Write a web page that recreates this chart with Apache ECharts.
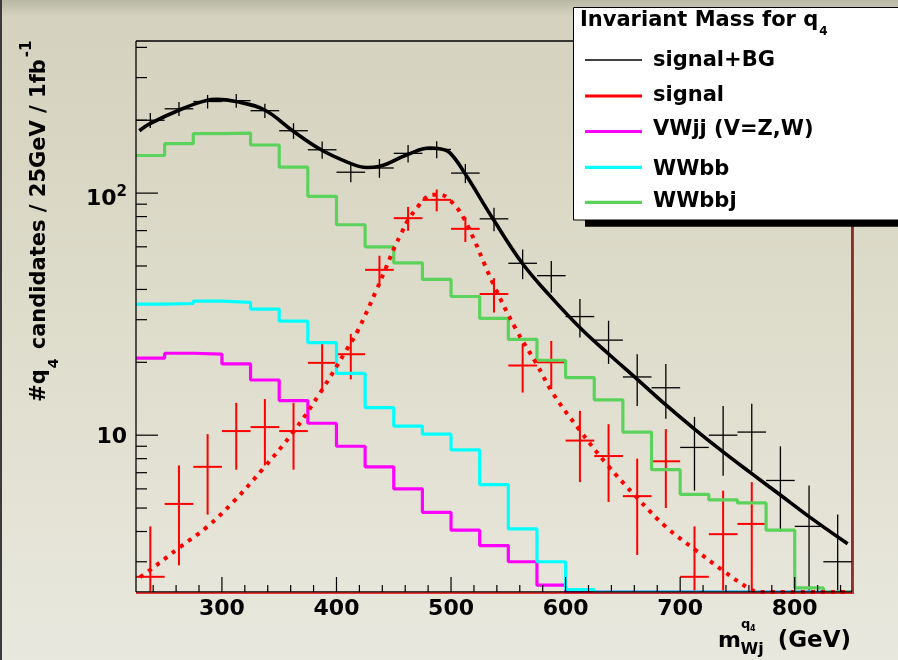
<!DOCTYPE html>
<html>
<head>
<meta charset="utf-8">
<script src="https://cdn.jsdelivr.net/npm/echarts@6/dist/echarts.min.js"></script>
<style>
  html, body { margin: 0; padding: 0; width: 898px; height: 660px; overflow: hidden; }
  #chart { width: 898px; height: 660px; }
</style>
</head>
<body>
<div id="chart"></div>
<script>
// Invariant mass of the Wj system for q4 candidates, 25 GeV bins from 225 to 850 GeV
const binCenters = [237.5, 262.5, 287.5, 312.5, 337.5, 362.5, 387.5, 412.5, 437.5, 462.5,
                    487.5, 512.5, 537.5, 562.5, 587.5, 612.5, 637.5, 662.5, 687.5, 712.5,
                    737.5, 762.5, 787.5, 812.5, 837.5];
const binWidth = 25;

// background histograms (events per bin; 0 = below the drawn range)
const wwbbj = [143, 160, 176, 177, 158, 128, 97, 74, 60, 51.5,
               44, 37.4, 30.4, 24.9, 20.4, 17.3, 14, 10.3, 7.2, 5.7,
               5.4, 5.25, 4.05, 2.34, 0];
const wwbb  = [34.8, 35.0, 35.8, 35.4, 33.2, 29.6, 24.1, 18.0, 13.0, 10.9,
               10.1, 8.7, 6.25, 4.1, 3.0, 2.3, 0, 0, 0, 0,
               0, 0, 0, 0, 0];
const vwjj  = [20.8, 21.8, 21.6, 19.7, 16.9, 13.9, 11.2, 9.0, 7.4, 6.0,
               4.8, 4.05, 3.5, 3.0, 2.4, 0, 0, 0, 0, 0,
               0, 0, 0, 0, 0];

// pseudo-data, signal + background, with statistical errors
const sigBgCounts = [200, 223, 239, 241, 219, 181, 151, 122, 127, 146,
                     151.5, 121, 78.3, 51.3, 45.6, 30.9, 24.7, 17.4, 15.7, 8.9,
                     10.0, 10.3, 6.5, 4.2, 3.0];
const sigBgErrors = [14.1, 14.9, 15.5, 15.5, 14.8, 13.5, 12.3, 11.0, 11.3, 12.1,
                     12.3, 11.0, 8.8, 7.2, 6.8, 5.6, 5.0, 4.2, 4.0, 3.0,
                     3.2, 3.2, 2.5, 2.0, 1.7];

// pseudo-data, signal only
const sigCounts = [2.6, 5.2, 7.4, 10.4, 10.8, 10.4, 19.9, 21.6, 48.2, 78.8,
                   93.8, 71.2, 38.3, 19.4, 20.0, 9.5, 8.2, 5.6, 7.8, 2.6,
                   3.9, 4.3, 0, 0, 0];
const sigErrors = [1.6, 2.3, 2.7, 3.2, 3.3, 3.2, 4.5, 4.6, 6.9, 8.9,
                   9.7, 8.4, 6.2, 4.4, 4.5, 3.1, 2.9, 2.4, 2.8, 1.6,
                   2.0, 2.1, 0, 0, 0];

// fitted curves
const sigBgFitX = [227.9, 237.2, 263.4, 286.7, 295.4, 312.2, 336.9, 361.7, 386.6, 411.6,
                   426.2, 436.9, 461.6, 481.4, 490.1, 498.8, 511.9, 536.6, 562.2, 586.0,
                   613.5, 637.3, 662.1, 687.8, 712.5, 737.2, 761.9, 786.6, 811.9, 846.2];
const sigBgFitY = [181, 193.6, 221, 241.6, 243.8, 239, 221, 181, 151, 133,
                   127.6, 128.8, 144, 153.5, 152.5, 147, 121, 78.3, 51.3, 37.8,
                   27.5, 21.7, 17.1, 13.3, 10.6, 8.55, 6.97, 5.70, 4.63, 3.56];
const sigFitX = [228.5, 237.2, 263.4, 286.7, 309.9, 336.0, 362.2, 385.5, 408.7, 418.9,
                 434.9, 443.6, 450.9, 456.7, 462.5, 471.2, 475.6, 484.3, 490.1, 498.8,
                 511.9, 536.6, 557.0, 574.4, 588.9, 612.2, 635.5, 661.7, 687.8, 714.0,
                 737.2, 760.5, 769.2, 850];
const sigFitY = [2.59, 2.77, 3.45, 4.17, 5.30, 7.28, 10.3, 14.9, 22.5, 27.2,
                 39.8, 49.7, 60.1, 68.3, 77.5, 88.1, 93.8, 98.4, 98.4, 93.8,
                 77.5, 42.4, 27.2, 19.8, 14.9, 10.5, 7.63, 5.56, 4.17, 3.34,
                 2.76, 2.32, 2.25, 0];

// axis ticks
const xMajorTicks = [300, 400, 500, 600, 700, 800];
const xMinorTicks = [240, 260, 280, 320, 340, 360, 380, 420, 440, 460, 480, 520, 540, 560, 580,
                     620, 640, 660, 680, 720, 740, 760, 780, 820, 840];
const yMajorTicks = [10, 100];
const yMinorTicks = [3, 4, 5, 6, 7, 8, 9, 20, 30, 40, 50, 60, 70, 80, 90, 200, 300, 400];

const X_MIN = 225, X_MAX = 850;
const Y_MIN = 2.25, Y_MAX = 425;
const FONT = 'DejaVu Sans';

const COLORS = {
  sigBg: '#000000',
  sig: '#ff0000',
  vwjj: '#ff00ff',
  wwbb: '#00ffff',
  wwbbj: '#5bd25b'
};

const clampY = v => Math.max(v, Y_MIN);

// histogram as a step line through the bin edges
function stepData(values) {
  const pts = binCenters.map((c, i) => [c - binWidth / 2, clampY(values[i])]);
  const last = binCenters.length - 1;
  pts.push([binCenters[last] + binWidth / 2, clampY(values[last])]);
  return pts;
}

function pointData(counts, errors) {
  return binCenters.map((c, i) => [c, counts[i], errors[i]]).filter(d => d[1] > 0);
}

function crossRenderer(color, width) {
  return function (params, api) {
    const x = api.value(0), y = api.value(1), e = api.value(2);
    const c = api.coord([x, y]);
    const l = api.coord([x - binWidth / 2, y]);
    const r = api.coord([x + binWidth / 2, y]);
    const t = api.coord([x, y + e]);
    const b = api.coord([x, Math.max(y - e, 0.05)]);
    const style = { stroke: color, lineWidth: width };
    return {
      type: 'group',
      children: [
        { type: 'line', shape: { x1: l[0], y1: c[1], x2: r[0], y2: c[1] }, style },
        { type: 'line', shape: { x1: c[0], y1: t[1], x2: c[0], y2: b[1] }, style }
      ]
    };
  };
}

// frame and inward tick marks
function tickRenderer(params, api) {
  const cs = params.coordSys;
  const left = cs.x, right = cs.x + cs.width, top = cs.y, bottom = cs.y + cs.height;
  const children = [];
  const seg = (x1, y1, x2, y2, stroke, w) =>
    children.push({ type: 'line', shape: { x1, y1, x2, y2 }, style: { stroke, lineWidth: w } });
  seg(left, top, right, top, '#000', 1.3);
  seg(left, top, left, bottom, '#000', 1.3);
  seg(left, bottom, right, bottom, '#000', 1.3);
  seg(right, top, right, bottom, '#000', 1.3);
  yMajorTicks.forEach(v => { const y = api.coord([X_MIN, v])[1]; seg(left, y, left + 22, y, '#000', 1.2); });
  yMinorTicks.forEach(v => { const y = api.coord([X_MIN, v])[1]; seg(left, y, left + 11, y, '#000', 1.2); });
  xMajorTicks.forEach(v => { const x = api.coord([v, Y_MIN])[0]; seg(x, bottom, x, bottom - 15, '#000', 1.2); });
  xMinorTicks.forEach(v => { const x = api.coord([v, Y_MIN])[0]; seg(x, bottom, x, bottom - 7, '#000', 1.2); });
  seg(left, bottom + 1.2, right + 2, bottom + 1.2, '#e00000', 1.3);
  seg(right + 1.2, top, right + 1.2, bottom + 1.2, '#e00000', 1.3);
  return { type: 'group', children };
}

const legendItems = [
  { name: 'signal+BG',      color: COLORS.sigBg, width: 1.4, lineY: 60,    textY: 60.5 },
  { name: 'signal',         color: COLORS.sig,   width: 3,   lineY: 96,    textY: 95.5 },
  { name: 'VWjj (V=Z,W)',   color: COLORS.vwjj,  width: 3.2, lineY: 131.5, textY: 129.5 },
  { name: 'WWbb',           color: COLORS.wwbb,  width: 3.2, lineY: 167.3, textY: 169.5 },
  { name: 'WWbbj',          color: COLORS.wwbbj, width: 3.2, lineY: 202.3, textY: 202 }
];

const graphics = [
  // canvas background
  {
    type: 'rect', z: -100, silent: true,
    shape: { x: 0, y: 0, width: 898, height: 660 },
    style: {
      fill: {
        type: 'linear', x: 0, y: 0, x2: 0, y2: 1,
        colorStops: [
          { offset: 0, color: '#b9b8a6' },
          { offset: 0.025, color: '#d5d3bf' },
          { offset: 0.4, color: '#dcdac8' },
          { offset: 1, color: '#e9e8de' }
        ]
      }
    }
  },
  { type: 'rect', z: -99, silent: true, shape: { x: 0, y: 0, width: 2, height: 660 }, style: { fill: '#3a3a3a' } },
  // legend box with its drop shadow
  { type: 'rect', z: 100, silent: true, shape: { x: 585, y: 40, width: 330, height: 186.7 }, style: { fill: '#000' } },
  { type: 'rect', z: 101, silent: true, shape: { x: 573.5, y: 7.5, width: 340, height: 212.5 },
    style: { fill: '#ffffff', stroke: '#000', lineWidth: 1 } },
  {
    type: 'text', z: 102, silent: true, x: 580, y: 21,
    style: {
      text: 'Invariant Mass for q{sub|4}',
      font: `bold 21px "${FONT}"`, fill: '#000', verticalAlign: 'middle', align: 'left',
      rich: { sub: { fontFamily: FONT, fontWeight: 'bold', fontSize: 12, padding: [22, 0, 0, 1] } }
    }
  },
  // y axis title
  {
    type: 'text', z: 50, silent: true, x: 39.5, y: 40.5, rotation: Math.PI / 2,
    style: {
      text: '#q{sub|4} candidates / 25GeV / 1fb{sup|-1}',
      font: `bold 21px "${FONT}"`, fill: '#000', align: 'right', verticalAlign: 'middle',
      rich: {
        sub: { fontFamily: FONT, fontWeight: 'bold', fontSize: 14, padding: [30, 2, 0, 1] },
        sup: { fontFamily: FONT, fontWeight: 'bold', fontSize: 15, padding: [0, 0, 24, 2] }
      }
    }
  },
  // x axis title: m with stacked q4 / Wj indices
  { type: 'text', z: 50, silent: true, x: 718, y: 641,
    style: { text: 'm', font: `bold 22px "${FONT}"`, fill: '#000', verticalAlign: 'middle' } },
  { type: 'text', z: 50, silent: true, x: 741, y: 624.6,
    style: { text: 'q', font: `bold 13px "${FONT}"`, fill: '#000', verticalAlign: 'middle' } },
  { type: 'text', z: 50, silent: true, x: 750, y: 628.5,
    style: { text: '4', font: `bold 8px "${FONT}"`, fill: '#000', verticalAlign: 'middle' } },
  { type: 'text', z: 50, silent: true, x: 740.5, y: 650,
    style: { text: 'Wj', font: `bold 16px "${FONT}"`, fill: '#000', verticalAlign: 'middle' } },
  { type: 'text', z: 50, silent: true, x: 851, y: 641,
    style: { text: '(GeV)', font: `bold 23px "${FONT}"`, fill: '#000', align: 'right', verticalAlign: 'middle' } }
];

legendItems.forEach(item => {
  graphics.push({
    type: 'line', z: 102, silent: true,
    shape: { x1: 585, y1: item.lineY, x2: 642, y2: item.lineY },
    style: { stroke: item.color, lineWidth: item.width }
  });
  graphics.push({
    type: 'text', z: 102, silent: true, x: 653, y: item.textY,
    style: { text: item.name, font: `bold 21px "${FONT}"`, fill: '#000', verticalAlign: 'middle' }
  });
});

const chart = echarts.init(document.getElementById('chart'), null, { renderer: 'canvas' });

chart.setOption({
  animation: false,
  backgroundColor: 'transparent',
  grid: {
    left: 136, right: 46, top: 41, bottom: 68,
    show: false
  },
  xAxis: {
    type: 'value', min: X_MIN, max: X_MAX, interval: 25,
    axisLine: { show: false }, axisTick: { show: false }, splitLine: { show: false },
    axisLabel: {
      margin: 6, color: '#000', fontFamily: FONT, fontWeight: 'bold', fontSize: 22,
      formatter: v => (xMajorTicks.indexOf(v) >= 0 ? String(v) : '')
    }
  },
  yAxis: {
    type: 'log', logBase: 10, min: Y_MIN, max: Y_MAX,
    axisLine: { show: false }, axisTick: { show: false }, splitLine: { show: false },
    axisLabel: {
      margin: 9, color: '#000',
      formatter: v => {
        const e = Math.log10(v);
        if (Math.abs(e - Math.round(e)) > 1e-6 || yMajorTicks.indexOf(Math.round(v)) < 0) return '';
        return Math.round(e) === 1 ? '{a|10}' : '{c|10}{s|' + Math.round(e) + '}';
      },
      rich: {
        a: { fontFamily: FONT, fontWeight: 'bold', fontSize: 22, color: '#000', padding: [5, 0, 0, 0] },
        c: { fontFamily: FONT, fontWeight: 'bold', fontSize: 22, color: '#000', padding: [13, 0, 0, 0] },
        s: { fontFamily: FONT, fontWeight: 'bold', fontSize: 15, color: '#000', padding: [0, 0, 2, 0] }
      }
    }
  },
  graphic: graphics,
  series: [
    {
      name: 'VWjj (V=Z,W)', type: 'line', step: 'end', data: stepData(vwjj),
      showSymbol: false, clip: true, silent: true,
      lineStyle: { color: COLORS.vwjj, width: 3.2 }, itemStyle: { color: COLORS.vwjj }
    },
    {
      name: 'WWbb', type: 'line', step: 'end', data: stepData(wwbb),
      showSymbol: false, clip: true, silent: true,
      lineStyle: { color: COLORS.wwbb, width: 3.2 }, itemStyle: { color: COLORS.wwbb }
    },
    {
      name: 'WWbbj', type: 'line', step: 'end', data: stepData(wwbbj),
      showSymbol: false, clip: true, silent: true,
      lineStyle: { color: COLORS.wwbbj, width: 3.2 }, itemStyle: { color: COLORS.wwbbj }
    },
    {
      name: 'signal', type: 'custom', data: pointData(sigCounts, sigErrors),
      encode: { x: 0, y: 1 }, clip: true, silent: true,
      renderItem: crossRenderer(COLORS.sig, 2)
    },
    {
      name: 'signal+BG', type: 'custom', data: pointData(sigBgCounts, sigBgErrors),
      encode: { x: 0, y: 1 }, clip: true, silent: true,
      renderItem: crossRenderer(COLORS.sigBg, 1.3)
    },
    {
      name: 'signal+BG fit', type: 'line', smooth: 0.4,
      data: sigBgFitX.map((x, i) => [x, clampY(sigBgFitY[i])]),
      showSymbol: false, clip: true, silent: true,
      lineStyle: { color: COLORS.sigBg, width: 3.6 }
    },
    {
      name: 'signal fit', type: 'line', smooth: 0.4,
      data: sigFitX.map((x, i) => [x, clampY(sigFitY[i])]),
      showSymbol: false, clip: true, silent: true,
      lineStyle: { color: COLORS.sig, width: 4, type: [4, 6], cap: 'butt' }
    },
    {
      name: 'frame ticks', type: 'custom', data: [[X_MIN, Y_MIN]],
      encode: { x: 0, y: 1 }, clip: false, silent: true, z: 5,
      renderItem: tickRenderer
    }
  ]
});
</script>
</body>
</html>
